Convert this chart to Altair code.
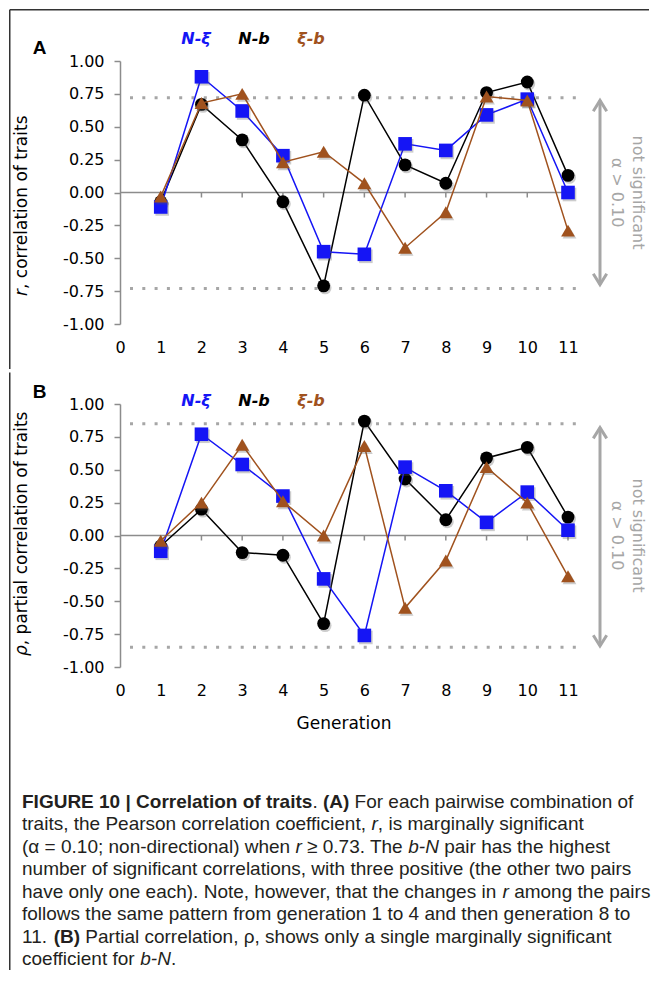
import altair as alt
import pandas as pd

# ---------------- data ----------------
generations = list(range(1, 12))
x_tick_values = list(range(0, 12))
y_tick_values = [1.0, 0.75, 0.5, 0.25, 0.0, -0.25, -0.5, -0.75, -1.0]

pairs = ["N-ξ", "N-b", "ξ-b"]
pair_colors = {"N-ξ": "#1515f5", "N-b": "#000000", "ξ-b": "#a0521e"}
pair_shapes = {"N-ξ": "square", "N-b": "circle", "ξ-b": "triangle-up"}
pair_sizes = {"N-ξ": 185, "N-b": 165, "ξ-b": 190}
draw_order = ["N-b", "N-ξ", "ξ-b"]

# Panel A: Pearson correlation r
r_N_xi = [-0.11, 0.88, 0.62, 0.28, -0.45, -0.47, 0.37, 0.32, 0.59, 0.71, 0.00]
r_N_b = [-0.07, 0.67, 0.40, -0.07, -0.71, 0.74, 0.21, 0.07, 0.76, 0.84, 0.13]
r_xi_b = [-0.03, 0.68, 0.75, 0.23, 0.31, 0.07, -0.42, -0.15, 0.73, 0.70, -0.29]

# Panel B: partial correlation rho
rho_N_xi = [-0.12, 0.77, 0.54, 0.30, -0.33, -0.76, 0.52, 0.34, 0.10, 0.33, 0.04]
rho_N_b = [-0.08, 0.20, -0.13, -0.15, -0.67, 0.87, 0.43, 0.12, 0.59, 0.67, 0.14]
rho_xi_b = [-0.04, 0.25, 0.69, 0.26, 0.00, 0.68, -0.55, -0.19, 0.52, 0.25, -0.31]

sig_A = [0.72, -0.73]
sig_B = [0.85, -0.85]
arrow_A = [0.70, -0.70]
arrow_B = [0.82, -0.84]

caption_lines = [
    [("FIGURE 10 | Correlation of traits", "b"), (". ", "r"), ("(A)", "b"),
     (" For each pairwise combination of", "r")],
    [("traits, the Pearson correlation coefficient, ", "r"), ("r", "i"),
     (", is marginally significant", "r")],
    [("(α = 0.10; non-directional) when ", "r"), ("r", "i"), (" ≥ 0.73. The ", "r"),
     ("b-N", "i"), (" pair has the highest", "r")],
    [("number of significant correlations, with three positive (the other two pairs", "r")],
    [("have only one each). Note, however, that the changes in ", "r"), ("r", "i"),
     (" among the pairs", "r")],
    [("follows the same pattern from generation 1 to 4 and then generation 8 to", "r")],
    [("11. ", "r"), ("(B)", "b"),
     (" Partial correlation, ρ, shows only a single marginally significant", "r")],
    [("coefficient for ", "r"), ("b-N", "i"), (".", "r")],
]

# ---------------- style ----------------
W, H = 448, 263
GRAY = "#a6a6a6"
AXIS_GRAY = "#8c8c8c"
FRAME = "#333333"
LBL_FONT = "DejaVu Sans"
CAP_FONT = "Liberation Sans"
CAP_FS = 19
FRAME_X = -110.25

xscale = alt.Scale(domain=[0, 11], nice=False, zero=False)
yscale = alt.Scale(domain=[-1, 1], nice=False, zero=False)

x_axis = alt.Axis(values=x_tick_values, format="d", domain=False, ticks=False, tickSize=0,
                  grid=False, title=None, labelFont=LBL_FONT, labelFontSize=16,
                  labelColor="black", labelPadding=15, labelFlush=False, labelOverlap=False)
y_axis = alt.Axis(values=y_tick_values,
                  labelExpr="replace(format(datum.value, '.2f'), '\u2212', '-')",
                  domainColor=AXIS_GRAY, domainWidth=1.5, tickColor=AXIS_GRAY, tickWidth=1.5,
                  tickSize=6, grid=False, title=None, labelFont=LBL_FONT, labelFontSize=16,
                  labelColor="black", labelPadding=10, labelOverlap=False)

one = pd.DataFrame({"k": [0]})

# Helvetica/Arial advance widths (1/1000 em) for caption layout
REG = {' ': 278, '(': 333, ')': 333, ',': 278, '-': 333, '.': 278, ';': 278, '=': 584,
       '|': 260, 'α': 578, 'ρ': 571, '≥': 549,
       'A': 667, 'B': 667, 'C': 722, 'D': 722, 'E': 667, 'F': 611, 'G': 778, 'H': 722,
       'I': 278, 'J': 500, 'K': 667, 'L': 556, 'M': 833, 'N': 722, 'O': 778, 'P': 667,
       'Q': 778, 'R': 722, 'S': 667, 'T': 611, 'U': 722, 'V': 667, 'W': 944, 'X': 667,
       'Y': 667, 'Z': 611,
       'a': 556, 'b': 556, 'c': 500, 'd': 556, 'e': 556, 'f': 278, 'g': 556, 'h': 556,
       'i': 222, 'j': 222, 'k': 500, 'l': 222, 'm': 833, 'n': 556, 'o': 556, 'p': 556,
       'q': 556, 'r': 333, 's': 500, 't': 278, 'u': 556, 'v': 500, 'w': 722, 'x': 500,
       'y': 500, 'z': 500}
BOLD = dict(REG)
BOLD.update({'|': 280, 'A': 722, 'B': 722, 'C': 722, 'E': 667, 'F': 611, 'G': 778,
             'I': 278, 'N': 722, 'R': 722, 'U': 722,
             'a': 556, 'b': 611, 'c': 556, 'd': 611, 'e': 556, 'f': 333, 'g': 611,
             'h': 611, 'i': 278, 'l': 278, 'n': 611, 'o': 611, 'r': 389, 's': 556,
             't': 333})
for d in "0123456789":
    REG[d] = 556
    BOLD[d] = 556


def seg_w(s, bold):
    tbl = BOLD if bold else REG
    return sum(tbl.get(ch, 556) for ch in s)


def text_at(x, y, s, **kw):
    return alt.Chart(one).mark_text(text=s, **kw).encode(x=alt.value(x), y=alt.value(y))


def vrule(x, y1, y2, **kw):
    return alt.Chart(one).mark_rule(**kw).encode(x=alt.value(x), y=alt.value(y1), y2=alt.value(y2))


def hrule(y, x1, x2, **kw):
    return alt.Chart(one).mark_rule(**kw).encode(y=alt.value(y), x=alt.value(x1), x2=alt.value(x2))


def panel(vals, sig, arrow, letter, letter_y, legend_y, title_parts, title_bottom,
          frame_top, frame_bottom, top_line, with_caption, gen_y, cap_y0):
    layers = []
    # series (define the axes)
    series_layers = []
    for name in draw_order:
        df = pd.DataFrame({"gen": generations, "value": vals[name]})
        base = alt.Chart(df).encode(
            x=alt.X("gen:Q", scale=xscale, axis=x_axis),
            y=alt.Y("value:Q", scale=yscale, axis=y_axis))
        series_layers.append(base.mark_line(color=pair_colors[name], strokeWidth=1.5))
        series_layers.append(base.mark_point(shape=pair_shapes[name], filled=True,
                                             size=pair_sizes[name], color="#555555",
                                             opacity=0.3, xOffset=1.5, yOffset=2))
        series_layers.append(base.mark_point(shape=pair_shapes[name], filled=True,
                                             size=pair_sizes[name], color=pair_colors[name],
                                             opacity=1))

    # frame
    if top_line:
        layers.append(hrule(frame_top, FRAME_X, 529, color=FRAME, strokeWidth=1.5))
    layers.append(vrule(FRAME_X, frame_top, frame_bottom, color=FRAME, strokeWidth=1.5))

    # zero line with small ticks
    layers.append(alt.Chart(one).mark_rule(color=AXIS_GRAY, strokeWidth=1.5).encode(
        x=alt.XDatum(0, scale=xscale, axis=x_axis), x2=alt.X2Datum(11),
        y=alt.YDatum(0, scale=yscale, axis=y_axis)))
    gdf = pd.DataFrame({"gen": generations})
    layers.append(alt.Chart(gdf).mark_rule(color=AXIS_GRAY, strokeWidth=1.5).encode(
        x=alt.X("gen:Q", scale=xscale, axis=x_axis),
        y=alt.YDatum(0, scale=yscale, axis=y_axis), y2=alt.Y2Datum(-0.038)))

    # significance thresholds
    sdf = pd.DataFrame({"t": sig})
    layers.append(alt.Chart(sdf).mark_rule(color=GRAY, strokeWidth=3, strokeDash=[3, 9.3]).encode(
        y=alt.Y("t:Q", scale=yscale, axis=y_axis), x=alt.value(10), x2=alt.value(462)))

    # double arrow
    adf = pd.DataFrame({"top": [arrow[0]], "bot": [arrow[1]]})
    layers.append(alt.Chart(adf).mark_rule(color=GRAY, strokeWidth=3).encode(
        x=alt.value(480), y=alt.Y("top:Q", scale=yscale, axis=y_axis), y2="bot:Q"))
    layers.append(alt.Chart(adf).mark_point(shape="M-1,1.6L0,0L1,1.6", filled=False, size=180,
                                            color=GRAY, strokeWidth=3, opacity=1).encode(
        x=alt.value(480), y=alt.Y("top:Q", scale=yscale, axis=y_axis)))
    layers.append(alt.Chart(adf).mark_point(shape="M-1,-1.6L0,0L1,-1.6", filled=False, size=180,
                                            color=GRAY, strokeWidth=3, opacity=1).encode(
        x=alt.value(480), y=alt.Y("bot:Q", scale=yscale, axis=y_axis)))
    layers.append(alt.Chart(one).mark_text(text="not significant", angle=90, align="center",
                                           baseline="middle", font=LBL_FONT, fontSize=16,
                                           color=GRAY).encode(
        x=alt.value(518), y=alt.YDatum(0, scale=yscale, axis=y_axis)))
    layers.append(alt.Chart(one).mark_text(text="α > 0.10", angle=90, align="center",
                                           baseline="middle", font=LBL_FONT, fontSize=16,
                                           color=GRAY).encode(
        x=alt.value(497), y=alt.YDatum(0, scale=yscale, axis=y_axis)))

    layers.extend(series_layers)

    # in-plot legend
    for name, lx in zip(pairs, [76, 134, 191]):
        layers.append(text_at(lx, legend_y, name, font=LBL_FONT, fontSize=16, fontWeight="bold",
                              fontStyle="italic", color=pair_colors[name], align="center",
                              baseline="middle"))

    # panel letter
    layers.append(text_at(-80.5, letter_y, letter, font=CAP_FONT, fontSize=19, fontWeight="bold",
                          color="black", align="center", baseline="middle"))

    # rotated y title (italic symbol + rest)
    ty = title_bottom
    for s, style, w in title_parts:
        layers.append(text_at(-98, ty, s, font=LBL_FONT, fontSize=17, fontStyle=style,
                              angle=270, align="left", baseline="middle", color="black"))
        ty -= w

    if with_caption:
        layers.append(text_at(W / 2, gen_y, "Generation", font=LBL_FONT, fontSize=17,
                              align="center", baseline="middle", color="black"))
        cap_x0 = 22 - 120
        cap_dy = 22.45
        for i, line in enumerate(caption_lines):
            cx = 0.0
            for s, st in line:
                bold = st == "b"
                lead = len(s) - len(s.lstrip(" "))
                trail = len(s) - len(s.rstrip(" "))
                body = s.strip(" ")
                cx += lead * 278
                if body:
                    layers.append(text_at(
                        cap_x0 + cx * CAP_FS / 1000.0, cap_y0 + i * cap_dy, body,
                        font=CAP_FONT, fontSize=CAP_FS,
                        fontWeight="bold" if bold else "normal",
                        fontStyle="italic" if st == "i" else "normal",
                        align="left", baseline="middle", color="#231f20"))
                cx += seg_w(body, bold) + trail * 278

    return alt.layer(*layers).properties(width=W, height=H)


panel_A = panel({"N-ξ": r_N_xi, "N-b": r_N_b, "ξ-b": r_xi_b}, sig_A, arrow_A, "A",
                -13.5, -22,
                [("r", "italic", 0.411 * 17), (", correlation of traits", "normal", 0)],
                235, -51.25, 308, True, False, 0, 0)
panel_B = panel({"N-ξ": rho_N_xi, "N-b": rho_N_b, "ξ-b": rho_xi_b}, sig_B, arrow_B, "B",
                -12, -3,
                [("ρ", "italic", 0.635 * 17), (", partial correlation of traits", "normal", 0)],
                252, -31.5, 566, False, True, 320, 398)

chart = alt.vconcat(panel_A, panel_B, spacing=0).properties(
    padding=0, background="white"
).configure_view(stroke="transparent")

chart.save("out.html", embed_options={"renderer": "svg", "actions": False})
